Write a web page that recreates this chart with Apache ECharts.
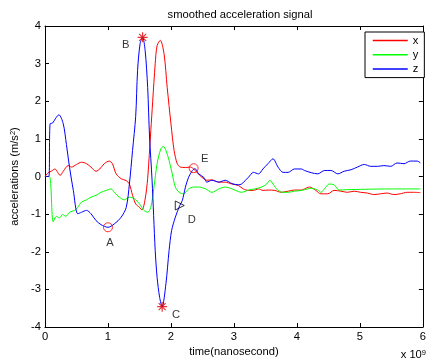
<!DOCTYPE html>
<html>
<head>
<meta charset="utf-8">
<title>smoothed acceleration signal</title>
<script src="https://cdn.jsdelivr.net/npm/echarts@6/dist/echarts.min.js"></script>
<style>
    html, body { margin: 0; padding: 0; background: #fff; }
    #chart { width: 429px; height: 364px; }
</style>
</head>
<body>
<div id="chart"></div>
<script>
/*smoothed acceleration signal*/

// time axis, in units of 1e9 ns
var xTicks = [0, 1, 2, 3, 4, 5, 6];
var yTicks = [-4, -3, -2, -1, 0, 1, 2, 3, 4];

// x (red)
var xTime = [0, 0.05, 0.10, 0.16, 0.19, 0.24, 0.29, 0.37, 0.42, 0.50, 0.58, 0.66, 0.73, 0.81, 0.87, 0.94, 1.02, 1.07, 1.13, 1.21,
    1.29, 1.34, 1.39, 1.44, 1.50, 1.54, 1.59, 1.63, 1.68, 1.71, 1.75, 1.78, 1.83, 1.89, 1.94, 2.00, 2.05, 2.10, 2.15, 2.23,
    2.31, 2.36, 2.41, 2.49, 2.57, 2.65, 2.76, 2.86, 2.97, 3.07, 3.15, 3.23, 3.31, 3.39, 3.46, 3.54, 3.65, 3.75, 3.86, 3.96,
    4.07, 4.12, 4.20, 4.30, 4.38, 4.49, 4.59, 4.70, 4.80, 4.91, 5.01, 5.12, 5.22, 5.33, 5.43, 5.54, 5.64, 5.75, 5.85, 5.96];
var xAccel = [0, 0.10, 0.14, 0.20, 0.14, 0.03, 0.14, 0.29, 0.25, 0.32, 0.38, 0.34, 0.25, 0.14, 0.20, 0.34, 0.41, 0.34, 0.07, -0.06,
    -0.11, -0.20, -0.50, -0.73, -0.82, -0.89, -0.60, -0.05, 1.22, 2.00, 3.00, 3.48, 3.62, 3.26, 2.37, 1.40, 0.69, 0.34, 0.25, 0.24,
    0.25, 0.20, 0.11, -0.02, -0.10, -0.09, -0.15, -0.15, -0.20, -0.24, -0.33, -0.37, -0.37, -0.33, -0.37, -0.36, -0.37, -0.42, -0.39, -0.36,
    -0.36, -0.33, -0.28, -0.37, -0.46, -0.46, -0.37, -0.39, -0.42, -0.39, -0.42, -0.44, -0.48, -0.46, -0.44, -0.48, -0.46, -0.42, -0.42, -0.43];

// y (green)
var yTime = [0, 0.07, 0.13, 0.18, 0.23, 0.28, 0.33, 0.39, 0.47, 0.52, 0.58, 0.66, 0.73, 0.81, 0.89, 0.97, 1.05, 1.10, 1.18, 1.26,
    1.34, 1.42, 1.50, 1.57, 1.63, 1.68, 1.73, 1.78, 1.84, 1.88, 1.92, 1.97, 2.02, 2.07, 2.13, 2.20, 2.28, 2.36, 2.44, 2.55,
    2.65, 2.76, 2.86, 2.97, 3.07, 3.12, 3.23, 3.33, 3.44, 3.52, 3.57, 3.62, 3.70, 3.78, 3.86, 3.96, 4.07, 4.17, 4.23, 4.33,
    4.38, 4.46, 4.51, 4.59, 4.67, 4.80, 5.07, 5.49, 5.96];
var yAccel = [0, 0, -1.20, -1.06, -1.10, -1.01, -1.06, -0.95, -0.90, -0.82, -0.68, -0.62, -0.55, -0.50, -0.42, -0.37, -0.33, -0.42, -0.55, -0.62,
    -0.55, -0.59, -0.73, -0.90, -0.95, -0.82, -0.28, 0.34, 0.74, 0.80, 0.69, 0.43, 0.07, -0.28, -0.42, -0.46, -0.33, -0.28, -0.28, -0.33,
    -0.42, -0.33, -0.28, -0.33, -0.40, -0.42, -0.36, -0.33, -0.28, -0.20, -0.10, -0.20, -0.37, -0.42, -0.42, -0.39, -0.37, -0.33, -0.31, -0.36,
    -0.42, -0.28, -0.20, -0.22, -0.36, -0.35, -0.34, -0.33, -0.33];

// z (blue)
var zTime = [0, 0.06, 0.08, 0.12, 0.17, 0.22, 0.29, 0.34, 0.39, 0.45, 0.52, 0.58, 0.66, 0.73, 0.81, 0.89, 1.00, 1.10, 1.21, 1.29,
    1.34, 1.39, 1.44, 1.47, 1.51, 1.55, 1.59, 1.63, 1.66, 1.70, 1.75, 1.78, 1.82, 1.86, 1.92, 1.97, 2.01, 2.07, 2.14, 2.18,
    2.23, 2.28, 2.34, 2.38, 2.44, 2.52, 2.57, 2.65, 2.76, 2.86, 2.97, 3.07, 3.12, 3.23, 3.31, 3.39, 3.46, 3.54, 3.62, 3.70,
    3.78, 3.86, 3.96, 4.07, 4.12, 4.23, 4.33, 4.44, 4.54, 4.65, 4.75, 4.86, 4.96, 5.07, 5.17, 5.28, 5.38, 5.49, 5.59, 5.70,
    5.80, 5.91, 5.96];
var zAccel = [0, 0, 1.40, 1.42, 1.55, 1.64, 1.40, 0.85, 0.24, -0.37, -0.99, -0.95, -0.90, -0.99, -1.17, -1.28, -1.35, -1.26, -1.08, -0.82,
    -0.20, 0.69, 1.60, 2.82, 3.53, 3.70, 3.35, 2.37, 1.05, -0.10, -1.97, -2.68, -3.21, -3.46, -2.85, -1.97, -1.44, -1.08, -0.77, -0.64,
    -0.28, -0.02, 0.16, 0.21, 0.07, -0.02, -0.15, -0.10, -0.15, -0.10, -0.19, -0.22, -0.20, -0.02, 0.11, 0.07, 0.20, 0.34, 0.47, 0.25,
    0.11, 0.11, 0.20, 0.20, 0.16, 0.10, 0.07, 0.16, 0.16, 0.07, 0.14, 0.18, 0.25, 0.32, 0.27, 0.27, 0.29, 0.27, 0.36, 0.34,
    0.41, 0.41, 0.36];

// labelled points A..E
var markNames = ['A', 'B', 'C', 'D', 'E'];
var markTime = [1.00, 1.55, 1.86, 2.14, 2.36];
var markAccel = [-1.35, 3.70, -3.46, -0.77, 0.22];

var FONT = 'Liberation Sans';
var FONT_SIZE = 11.2;
var ASTERISK = 'path://M-0.6,-5L0.6,-5L0.6,5L-0.6,5Z M-5,-0.6L5,-0.6L5,0.6L-5,0.6Z M-3.9,-3.1L-3.1,-3.9L3.9,3.1L3.1,3.9Z M3.1,-3.9L3.9,-3.1L-3.1,3.9L-3.9,3.1Z';

function zip(t, v) {
    var out = [];
    for (var i = 0; i < t.length; i++) {
        out.push([t[i], v[i]]);
    }
    return out;
}

function lineSeries(name, color, t, v) {
    return {
        name: name,
        type: 'line',
        xAxisIndex: 0,
        yAxisIndex: 0,
        symbol: 'none',
        smooth: 0.3,
        lineStyle: { color: color, width: 1 },
        itemStyle: { color: color },
        data: zip(t, v)
    };
}

function markSeries() {
    var styles = [
        { symbol: 'circle', size: 9, rotate: 0, color: '#ff0000', offset: [2, 16] },
        { symbol: ASTERISK, size: 10, rotate: 0, color: '#dd0000', offset: [-17, 8] },
        { symbol: ASTERISK, size: 10, rotate: 0, color: '#dd0000', offset: [14, 8] },
        { symbol: 'triangle', size: 9, rotate: -90, color: '#000000', offset: [12, 14] },
        { symbol: 'circle', size: 9, rotate: 0, color: '#ff0000', offset: [11, -9] }
    ];
    var data = [];
    for (var i = 0; i < markNames.length; i++) {
        var s = styles[i];
        var hollow = s.symbol !== ASTERISK;
        data.push({
            name: markNames[i],
            value: [markTime[i], markAccel[i]],
            symbol: s.symbol,
            symbolSize: s.size,
            symbolRotate: s.rotate,
            itemStyle: {
                color: hollow ? 'rgba(0,0,0,0)' : s.color,
                borderColor: s.color,
                borderWidth: hollow ? 1 : 0
            },
            label: { offset: s.offset }
        });
    }
    return {
        type: 'scatter',
        xAxisIndex: 0,
        yAxisIndex: 0,
        z: 5,
        symbolKeepAspect: true,
        label: {
            show: true,
            position: 'inside',
            formatter: '{b}',
            color: '#000',
            fontFamily: FONT,
            fontSize: FONT_SIZE
        },
        data: data
    };
}

function axisBase(pos, showLabel) {
    return {
        type: 'value',
        position: pos,
        axisLine: { show: true, onZero: false, lineStyle: { color: '#000', width: 1 } },
        axisTick: { show: true, inside: true, length: 4, lineStyle: { color: '#000' } },
        axisLabel: { show: showLabel, color: '#000', fontFamily: FONT, fontSize: FONT_SIZE },
        splitLine: { show: false }
    };
}

function drawChart() {
    var chart = echarts.init(document.getElementById('chart'), null, { renderer: 'canvas' });

    var xBottom = axisBase('bottom', true);
    xBottom.min = xTicks[0];
    xBottom.max = xTicks[xTicks.length - 1];
    xBottom.interval = 1;
    xBottom.axisLabel.margin = 4;
    xBottom.name = 'time(nanosecond)';
    xBottom.nameLocation = 'middle';
    xBottom.nameGap = 18;
    xBottom.nameTextStyle = { color: '#000', fontFamily: FONT, fontSize: FONT_SIZE };

    var xTop = axisBase('top', false);
    xTop.min = xTicks[0];
    xTop.max = xTicks[xTicks.length - 1];
    xTop.interval = 1;

    var yLeft = axisBase('left', true);
    yLeft.min = yTicks[0];
    yLeft.max = yTicks[yTicks.length - 1];
    yLeft.interval = 1;
    yLeft.axisLabel.margin = 4;
    yLeft.name = 'accelerations (m/s{sup|2})';
    yLeft.nameLocation = 'middle';
    yLeft.nameGap = 25;
    yLeft.nameTextStyle = {
        color: '#000', fontFamily: FONT, fontSize: FONT_SIZE,
        rich: { sup: { fontSize: 7.5, verticalAlign: 'top', lineHeight: 8, fontFamily: FONT, color: '#000' } }
    };

    var yRight = axisBase('right', false);
    yRight.min = yTicks[0];
    yRight.max = yTicks[yTicks.length - 1];
    yRight.interval = 1;

    var option = {
        animation: false,
        backgroundColor: '#fff',
        title: {
            text: 'smoothed acceleration signal',
            left: 235,
            textAlign: 'center',
            top: 4,
            textStyle: { color: '#000', fontFamily: FONT, fontSize: FONT_SIZE, fontWeight: 'normal' }
        },
        legend: {
            data: ['x', 'y', 'z'],
            orient: 'vertical',
            left: 365,
            top: 32,
            backgroundColor: '#fff',
            borderColor: '#000',
            borderWidth: 1,
            padding: [3, 6, 3, 7],
            itemWidth: 35,
            itemHeight: 14,
            itemGap: 3,
            itemStyle: { opacity: 0 },
            lineStyle: { width: 1.5 },
            textStyle: { color: '#000', fontFamily: FONT, fontSize: FONT_SIZE }
        },
        grid: {
            left: 45,
            right: 3,
            top: 26,
            bottom: 37,
            containLabel: false
        },
        xAxis: [xBottom, xTop],
        yAxis: [yLeft, yRight],
        graphic: [{
            type: 'text',
            right: 3,
            bottom: 4,
            style: {
                text: 'x 10{sup|9}',
                fill: '#000',
                font: FONT_SIZE + 'px "' + FONT + '"',
                rich: { sup: { fontSize: 7.5, verticalAlign: 'top', lineHeight: 8, fill: '#000' } }
            }
        }],
        series: [
            lineSeries('x', '#ff0000', xTime, xAccel),
            lineSeries('y', '#00ff00', yTime, yAccel),
            lineSeries('z', '#0000ff', zTime, zAccel),
            markSeries()
        ]
    };

    chart.clear();
    chart.setOption(option);
}

drawChart();
</script>
</body>
</html>
